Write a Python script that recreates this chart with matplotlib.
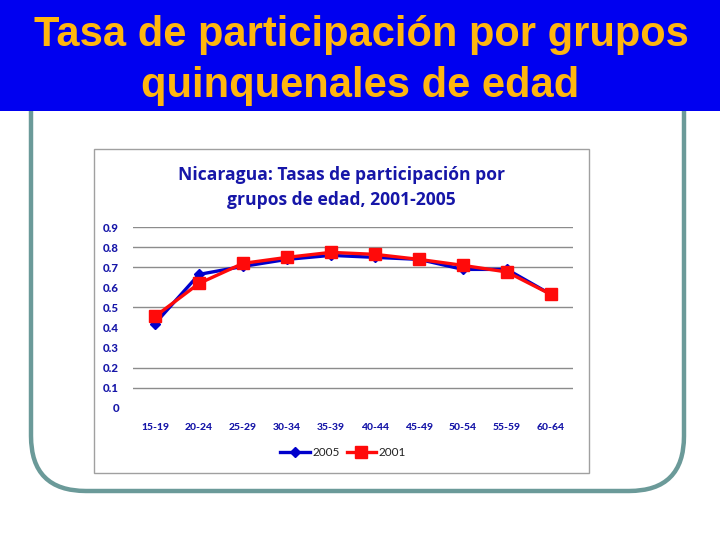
import matplotlib
matplotlib.use("Agg")
import matplotlib.pyplot as plt
from matplotlib.patches import FancyBboxPatch, Rectangle

# ---- data ----
categories = ['15-19', '20-24', '25-29', '30-34', '35-39', '40-44', '45-49', '50-54', '55-59', '60-64']
y2005 = [0.42, 0.665, 0.705, 0.74, 0.76, 0.75, 0.74, 0.69, 0.69, 0.565]
y2001 = [0.455, 0.62, 0.72, 0.75, 0.775, 0.765, 0.74, 0.71, 0.677, 0.565]
yticks = [0, 0.1, 0.2, 0.3, 0.4, 0.5, 0.6, 0.7, 0.8, 0.9]
ytick_labels = ['0', '0.1', '0.2', '0.3', '0.4', '0.5', '0.6', '0.7', '0.8', '0.9']
grid_values = [0.1, 0.2, 0.5, 0.7, 0.8, 0.9]
slide_title = "Tasa de participación por grupos\nquinquenales de edad"
chart_title = "Nicaragua: Tasas de participación por\ngrupos de edad, 2001-2005"

W, H = 720, 540
fig = plt.figure(figsize=(7.2, 5.4), dpi=100)
fig.patch.set_facecolor('white')

# background axes in pixel coordinates
bg = fig.add_axes([0, 0, 1, 1], zorder=0)
bg.set_xlim(0, W)
bg.set_ylim(H, 0)
bg.axis('off')

# slide frame (rounded)
frame = FancyBboxPatch((31, 40), 653, 451,
                       boxstyle="round,pad=0,rounding_size=55",
                       facecolor='white', edgecolor='#6B9A99', linewidth=3.2)
bg.add_patch(frame)

# blue banner
bg.add_patch(Rectangle((0, 0), W, 111, facecolor='#0000F0', edgecolor='none'))
title_font = ['Liberation Sans', 'DejaVu Sans']
st_lines = slide_title.split('\n')
bg.text(361, 46, st_lines[0], ha='center', va='baseline',
        fontsize=30, fontweight='bold', color='#FFB60F', family=title_font)
bg.text(360, 96.5, st_lines[1], ha='center', va='baseline',
        fontsize=30, fontweight='bold', color='#FFB60F', family=title_font)

# chart box
bg.add_patch(Rectangle((93.5, 148.5), 495, 324, facecolor='white',
                       edgecolor='#A0A0A0', linewidth=1))

title_font2 = ['Open Sans', 'DejaVu Sans']
chart_font = ['Lato', 'DejaVu Sans']
navy = '#1616A8'
lines_ct = chart_title.split('\n')
bg.text(341.5, 179.5, lines_ct[0], ha='center', va='baseline', fontsize=12.6,
        fontweight='bold', color=navy, family=title_font2)
bg.text(341.5, 205, lines_ct[1], ha='center', va='baseline', fontsize=12.6,
        fontweight='bold', color=navy, family=title_font2)

# main plot axes
left, right = 133, 573
top, bottom = 227.3, 407.7
ax = fig.add_axes([left / W, 1 - bottom / H, (right - left) / W, (bottom - top) / H], zorder=2)
ax.patch.set_alpha(0)
x = list(range(len(categories)))
for g in grid_values:
    ax.axhline(g, color='#8C8C8C', linewidth=1, zorder=1)
ax.plot(x, y2005, color='#0000CC', linewidth=2.4, marker='D', markersize=5,
        label='2005', zorder=3)
ax.plot(x, y2001, color='#FF0A0A', linewidth=2.4, marker='s', markersize=8.5,
        label='2001', zorder=4)
ax.set_xlim(-0.5, len(categories) - 0.5)
ax.set_ylim(0, 0.9)
ax.set_xticks(x)
ax.set_xticklabels(categories)
ax.set_yticks(yticks)
ax.set_yticklabels(ytick_labels)
for s in ax.spines.values():
    s.set_visible(False)
ax.tick_params(axis='both', length=0)
ax.tick_params(axis='y', pad=10)
ax.tick_params(axis='x', pad=11)
for lab in ax.get_xticklabels():
    lab.set_fontweight('black')
    lab.set_fontsize(7.5)
    lab.set_color(navy)
    lab.set_family(chart_font)
for lab in ax.get_yticklabels():
    lab.set_fontweight('black')
    lab.set_fontsize(8.2)
    lab.set_color(navy)
    lab.set_family(chart_font)

leg = ax.legend(loc='center', bbox_to_anchor=(343 / W, 1 - 453 / H),
                bbox_transform=fig.transFigure, ncol=2, frameon=False,
                handlelength=2.5, columnspacing=0.6, handletextpad=0.2,
                prop={'family': chart_font, 'size': 8.5})
for t in leg.get_texts():
    t.set_color('#222222')

fig.savefig('out.png', dpi=100)
